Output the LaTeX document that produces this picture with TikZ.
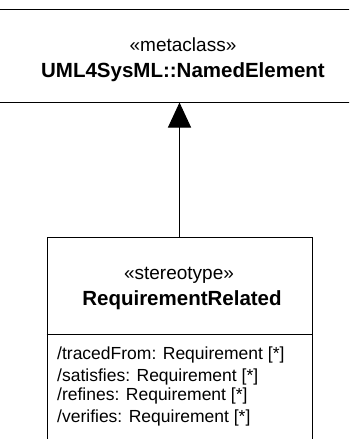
\documentclass[tikz,border=0pt]{standalone}
\usepackage{fontspec}
\setmainfont{Liberation Sans}
\usetikzlibrary{arrows.meta,positioning,calc}
\tikzset{
  cls/.style={draw=black, line width=1pt, fill=white, inner sep=0pt},
  ster/.style={font=\fontsize{19}{22}\selectfont, inner sep=0pt},
  cname/.style={font=\bfseries\fontsize{20.5}{24}\selectfont, inner sep=0pt},
  attr/.style={font=\fontsize{17.5}{20}\selectfont, anchor=west, inner sep=0pt},
  gen/.style={-{Triangle[length=25pt,width=23pt]}, line width=1pt},
}
\begin{document}
\begin{tikzpicture}[x=1pt,y=-1pt]
  \useasboundingbox (0,0) rectangle (349,439);
  \clip (0,0) rectangle (349,439);
  % metaclass box runs past the page on both sides
  \node[cls, minimum width=420pt, minimum height=93pt] (named) at (179.5,55.5) {};
  \node[ster] (namedster) at (183,45) {«metaclass»};
  \node[cname] (namedname) at (183,72) {UML4SysML::NamedElement};
  % stereotype box, cut at the bottom of the page
  \node[cls, minimum width=265pt, minimum height=223pt] (req) at (179.5,348.5) {};
  \coordinate (sep) at (0,334);
  \draw[line width=1pt] (req.west |- sep) -- (req.east |- sep);
  \node[ster] (reqster) at (179,275) {«stereotype»};
  \node[cname] (reqname) at (182,300) {RequirementRelated};
  \node[attr] (traced) at (57,355) {/tracedFrom: Requirement [*]};
  \node[attr] (satis) at (57,377) {/satisfies: Requirement [*]};
  \node[attr] (refin) at (57,396) {/refines: Requirement [*]};
  \node[attr] (verif) at (57,418) {/verifies: Requirement [*]};
  \draw[gen] (req.north) -- (named.south);
\end{tikzpicture}
\end{document}
